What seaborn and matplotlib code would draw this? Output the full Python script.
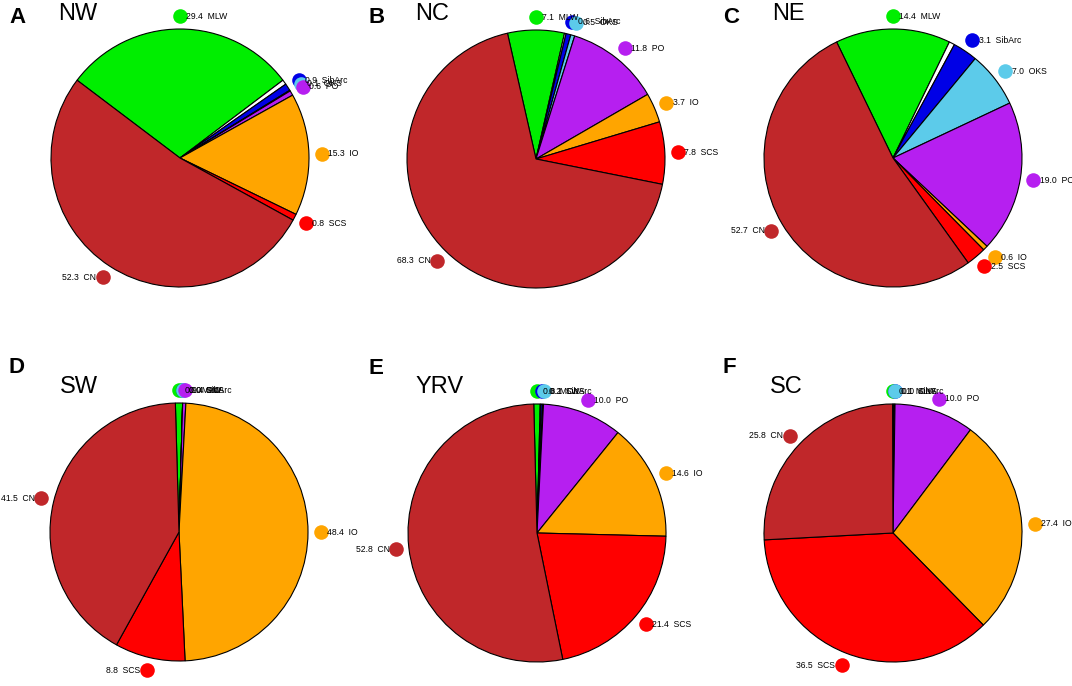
import numpy as np
import matplotlib
matplotlib.use('Agg')
import matplotlib.pyplot as plt
import seaborn as sns

# source contributions (%) per region
letters = ['A', 'B', 'C', 'D', 'E', 'F']
regions = ['NW', 'NC', 'NE', 'SW', 'YRV', 'SC']
sources = ['MLW', 'SibArc', 'OKS', 'PO', 'IO', 'SCS', 'CN']

mlw = [29.4, 7.1, 14.4, 0.9, 0.8, 0.1]
sibarc = [0.9, 0.6, 3.1, 0.0, 0.2, 0.1]
oks = [0.1, 0.5, 7.0, 0.0, 0.1, 0.0]
po = [0.6, 11.8, 19.0, 0.4, 10.0, 10.0]
io = [15.3, 3.7, 0.6, 48.4, 14.6, 27.4]
scs = [0.8, 7.8, 2.5, 8.8, 21.4, 36.5]
cn = [52.3, 68.3, 52.7, 41.5, 52.8, 25.8]
other = [0.6, 0.2, 0.7, 0.0, 0.1, 0.1]   # unlabelled white sliver

colors = {'MLW': '#00ee00', 'SibArc': '#0000e6', 'OKS': '#5ccbea',
          'PO': '#b61ff0', 'IO': '#ffa500', 'SCS': '#ff0000', 'CN': '#c0272a'}

sns.set_style('white')
plt.rcParams['font.family'] = ['Liberation Sans', 'DejaVu Sans']
plt.rcParams['text.color'] = 'black'

W, H = 1072, 686
fig = plt.figure(figsize=(W / 100, H / 100), dpi=100)

# pie centres in pixels, radius in pixels
centres = [(180, 158), (536, 159), (893, 158), (179, 532), (537, 533), (893, 533)]
R = 129
L = 1.35
letter_pos = [(9, 23), (369, 23), (723, 23), (8, 373), (369, 374), (723, 373)]
title_pos = [(58, 20), (415, 20), (772, 20), (60, 393), (415, 393), (770, 393)]

for i in range(6):
    cx, cy = centres[i]
    ax = fig.add_axes([(cx - L * R) / W, (H - cy - L * R) / H,
                       2 * L * R / W, 2 * L * R / H])
    vals = [mlw[i], other[i], sibarc[i], oks[i], po[i], io[i], scs[i], cn[i]]
    names = ['MLW', None, 'SibArc', 'OKS', 'PO', 'IO', 'SCS', 'CN']
    cols = [colors[n] if n else 'white' for n in names]
    start = 90 + mlw[i] * 3.6 / 2
    wedges, _ = ax.pie(vals, colors=cols, startangle=start, counterclock=False,
                       radius=1, wedgeprops=dict(edgecolor='black', linewidth=0.8))
    ax.set_xlim(-L, L)
    ax.set_ylim(-L, L)
    ax.set_aspect('equal')
    ax.axis('off')

    # dot + label at each wedge midpoint
    for w, n, v in zip(wedges, names, vals):
        if n is None:
            continue
        mid = np.deg2rad((w.theta1 + w.theta2) / 2)
        x, y = 1.1 * np.cos(mid), 1.1 * np.sin(mid)
        ax.scatter([x], [y], s=110, color=colors[n], zorder=5, clip_on=False,
                   linewidths=0)
        txt = f'{v:.1f}  {n}'
        if np.cos(mid) >= -1e-6:
            ax.text(x + 0.05, y, txt, ha='left', va='center', fontsize=6.2,
                    clip_on=False, zorder=6)
        else:
            ax.text(x - 0.05, y, txt, ha='right', va='center', fontsize=6.2,
                    clip_on=False, zorder=6)

    lx, ly = letter_pos[i]
    fig.text(lx / W, 1 - ly / H, letters[i], fontsize=16, fontweight='bold',
             va='baseline', ha='left')
    tx, ty = title_pos[i]
    fig.text(tx / W, 1 - ty / H, regions[i], fontsize=17, va='baseline', ha='left')

fig.savefig('out.png', dpi=100)
